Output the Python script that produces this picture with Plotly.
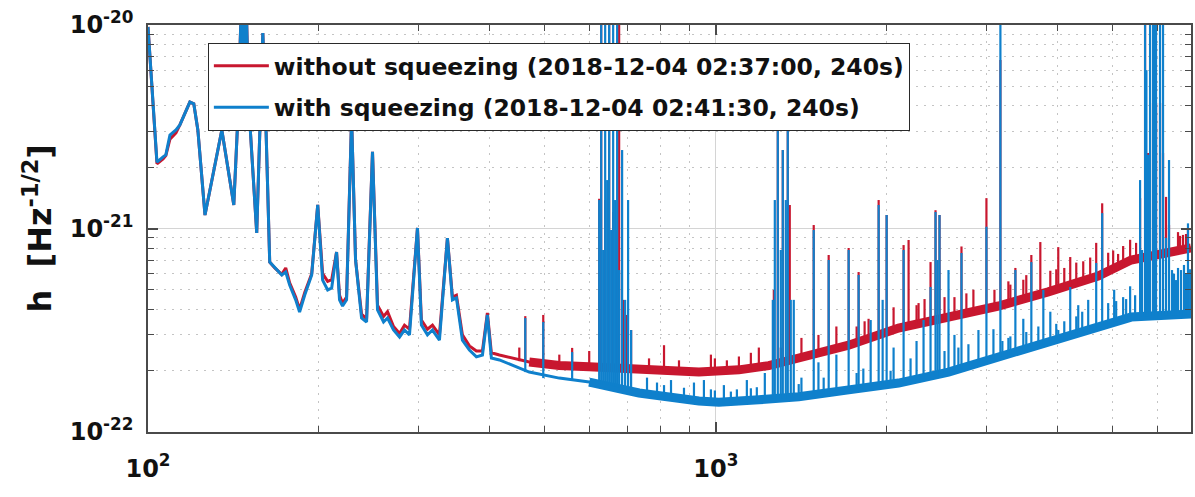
import plotly.graph_objects as go

# ---------------- data: frequency in Hz, ASD in units of 1e-22 Hz^-1/2 ----------------
# low-frequency part of each spectrum (100 Hz - 400 Hz)
blue_low_freq = [100, 103.7, 106.3, 107.5, 109.3, 112.0, 113.8, 118.5, 120.4, 122.4, 126.0, 127.5, 131.1,
                 134.9, 137.1, 141.6, 143.9, 146.3, 147.5, 148.7, 150.5, 155.4, 159.3, 161.2, 163.8, 167.2,
                 172.0, 174.8, 177.6, 182.0, 184.9, 188.8, 194.2, 199.0, 203.0, 207.2, 210.6, 214.8, 217.4,
                 220.1, 223.7, 228.3, 232.0, 237.7, 242.6, 248.5, 253.6, 259.9, 264.1, 270.6, 277.3, 282.9,
                 288.7, 298.2, 303.0, 310.5, 316.9, 326.0, 336.7, 343.6, 349.2, 357.8, 368.1, 378.7, 388.1,
                 395.9, 402.4]
blue_low_asd = [97.8, 21.2, 22.5, 23.0, 28.8, 30.5, 32.3, 41.8, 41.0, 30.5, 11.65, 13.8, 20.5,
                30.5, 23.0, 13.05, 34.1, 150, 60, 150, 40, 9.5, 91.3, 34.1, 6.84, 6.40,
                5.91, 6.11, 5.28, 4.46, 3.89, 4.71, 5.91, 13.05, 5.58, 4.99, 5.10, 7.66, 4.46,
                4.16, 4.46, 35.0, 7.0, 3.63, 3.47, 23.8, 3.98, 3.47, 3.63, 3.17, 2.93, 3.17,
                3.00, 10.06, 3.35, 3.00, 3.17, 2.83, 8.98, 4.46, 4.56, 2.83, 2.53, 2.34, 2.39,
                3.76, 2.31]
red_low_freq = blue_low_freq
red_low_asd = [97.8, 20.8, 22.0, 22.8, 27.5, 29.5, 32.3, 41.8, 41.0, 30.5, 11.65, 13.8, 20.5,
               30.5, 23.0, 13.05, 34.1, 150, 60, 150, 40, 9.5, 91.3, 34.1, 6.84, 6.40,
               5.95, 6.4, 5.4, 4.6, 4.0, 4.85, 6.0, 13.05, 6.0, 5.5, 5.6, 7.66, 4.7,
               4.3, 4.6, 35.0, 7.0, 3.8, 3.6, 23.8, 4.2, 3.7, 3.9, 3.3, 3.05, 3.35,
               3.2, 10.06, 3.55, 3.2, 3.35, 3.0, 8.98, 4.6, 4.7, 3.0, 2.65, 2.5, 2.5,
               3.85, 2.45]

# broadband noise floor above 400 Hz
red_floor_freq = [415.7, 469.2, 529.9, 598.4, 762.4, 933.5, 1097.6, 1239, 1399, 1713, 2097, 2567, 3144,
                  3848, 4711, 5384, 6512, 6865]
red_floor_asd = [2.39, 2.21, 2.12, 2.09, 2.02, 1.97, 2.02, 2.12, 2.31, 2.67, 3.24, 3.67, 4.16,
                 4.88, 5.84, 7.0, 7.84, 8.02]
blue_floor_freq = [415.7, 469.2, 529.9, 598.4, 732.3, 933.5, 1012, 1190, 1399, 1713, 2097, 2567, 3144,
                   3848, 4711, 5384, 6865]
blue_floor_asd = [2.26, 1.97, 1.84, 1.76, 1.555, 1.42, 1.40, 1.44, 1.49, 1.61, 1.74, 1.97, 2.34,
                  2.74, 3.32, 3.67, 3.80]

# narrow spectral lines: frequency, floor level at the line, line top
blue_line_freq = [461.7, 496.6, 558.3, 623.0, 628.1, 633.2, 638.3, 643.5, 648.7, 654.0, 659.3, 664.6, 670.0,
                  675.5, 683.7, 692.1, 700.5, 709.1, 810.3, 952.6, 1259.6, 1269.8, 1285.3, 1301.0, 1311.6,
                  1327.6, 1338.4, 1354.7, 1371.3, 1486.8, 1579.8, 1713.0, 1783.7, 1873.0, 1934.6, 1966.2,
                  1998.3, 2140.5, 2320.9, 2387.6, 2436.4, 2456.2, 2476.1, 2568.0, 2706.7, 2899.4, 2994.8,
                  3169.4, 3367.8, 3593.0, 3772.0, 4007.6, 4206.9, 4524.7, 4673.7, 4788.5, 5583.8, 5629.2,
                  5697.9, 5729.0, 5767.5, 5814.4, 5885.4, 5933.0, 5957.3, 6054.5, 6128.5, 6203.3, 6279.0,
                  6355.7, 6407.0, 6459.4, 6512.3, 6591.5, 6672.0, 6727.0, 6780.9, 6840.0,
                  756.3, 787.6, 833.6, 878.6, 914.9, 980.0, 1032.9, 1088.8, 1133.7, 1180.5, 1219.4, 1414.6,
                  1515.6, 1629.9, 1818.1, 2055.4, 2201.8, 2255.9, 2526.8, 2630.6, 2784.0, 3081.2, 3273.6,
                  3477.7, 3696.4, 3880.3, 4106.4, 4345.7, 4906.4, 5026.9, 5213.3, 5363.1, 5472.8,
                  995.9, 1062.6, 1152.3, 1399.0, 1548.0, 1769.3, 2030.6, 2673.0, 3195.0, 3300.0, 3520.0,
                  3975.0, 4311.0, 4416.0, 5068.0, 5277.0]
blue_line_base = [1.97, 1.84, 1.80, 1.74, 1.73, 1.72, 1.71, 1.70, 1.70, 1.69, 1.68, 1.67, 1.66,
                  1.66, 1.64, 1.63, 1.61, 1.60, 1.49, 1.42, 1.46, 1.46, 1.46, 1.46, 1.46,
                  1.46, 1.46, 1.47, 1.47, 1.50, 1.54, 1.61, 1.63, 1.66, 1.68, 1.70,
                  1.70, 1.76, 1.84, 1.89, 1.89, 1.89, 1.90, 1.97, 2.06, 2.19, 2.23,
                  2.34, 2.45, 2.60, 2.70, 2.83, 2.93, 3.13, 3.25, 3.32, 3.70, 3.70,
                  3.70, 3.70, 3.70, 3.72, 3.72, 3.72, 3.72, 3.72, 3.72, 3.72, 3.72,
                  3.72, 3.72, 3.72, 3.73, 3.74, 3.75, 3.76, 3.76, 3.78,
                  1.55, 1.52, 1.46, 1.44, 1.42, 1.40, 1.40, 1.42, 1.44, 1.44, 1.46, 1.50,
                  1.54, 1.59, 1.64, 1.72, 1.80, 1.82, 1.95, 2.02, 2.12, 2.29, 2.39,
                  2.50, 2.62, 2.72, 2.87, 3.03, 3.40, 3.47, 3.58, 3.67, 3.70,
                  1.40, 1.40, 1.44, 1.49, 1.55, 1.63, 1.71, 2.03, 2.36, 2.40, 2.52,
                  2.80, 3.00, 3.08, 3.50, 3.62]
blue_line_top = [3.63, 3.47, 2.47, 13.8, 150, 7.84, 150, 17.3, 150, 9.83, 150, 13.8, 150,
                 6.25, 24.3, 4.46, 13.8, 3.17, 1.70, 1.80, 4.46, 13.8, 38.2, 7.84, 24.3,
                 13.8, 34.1, 4.46, 4.46, 9.83, 7.0, 7.84, 5.91, 3.55, 13.05, 4.46,
                 11.65, 7.84, 3.55, 5.16, 12.05, 7.0, 11.65, 6.25, 7.58, 3.17, 10.2,
                 150, 6.25, 6.84, 4.99, 3.17, 5.16, 4.46, 6.77, 11.9, 17.3, 7.84,
                 150, 60, 23.0, 150, 150, 150, 150, 150, 150, 9.0, 21.7,
                 6.25, 6.0, 5.58, 6.4, 6.25, 6.62, 6.0, 10.6, 6.3,
                 1.85, 1.75, 1.80, 1.65, 1.75, 1.62, 1.70, 1.62, 1.80, 1.66, 1.95, 1.85,
                 2.2, 2.4, 2.05, 2.6, 2.3, 2.8, 2.5, 3.0, 2.7, 3.2, 2.9,
                 3.6, 3.3, 3.9, 3.5, 4.2, 4.3, 5.0, 4.6, 5.2, 4.7,
                 1.60, 1.58, 1.64, 1.72, 1.85, 1.95, 2.0, 2.6, 2.8, 2.95, 3.1,
                 3.4, 3.7, 3.9, 4.4, 4.5]

red_line_freq = [450.6, 461.7, 496.6, 530.0, 558.3, 598.3, 623.0, 628.1, 638.3, 648.7, 659.3, 670.0, 675.5,
                 686.4, 697.6, 709.1, 762.5, 810.3, 861.0, 980.0, 1097.8, 1190.2, 1264.7, 1285.3, 1311.6,
                 1338.4, 1349.2, 1414.6, 1486.8, 1579.8, 1629.9, 1713.0, 1783.7, 1857.2, 1934.6, 1998.3,
                 2055.4, 2140.5, 2184.3, 2274.4, 2387.6, 2436.4, 2476.1, 2526.8, 2706.7, 2840.8, 2994.8,
                 3169.4, 3273.6, 3367.8, 3477.7, 3593.0, 3726.2, 3880.3, 4007.6, 4206.9, 4434.4, 4673.7,
                 4788.5, 5006.4, 5213.3, 5363.1, 5583.8, 5697.9, 5767.5, 5885.4, 5957.3, 6054.5, 6128.5,
                 6203.3, 6279.0, 6512.3, 6645.0, 6780.9,
                 995.9, 1045.5, 1152.3, 1301.0, 1515.6, 1769.3, 1827.5, 2255.9, 2330.3, 2630.6, 2761.0,
                 3093.8, 3300.0, 3520.0, 3975.0, 4106.4, 4311.0, 4561.0, 4906.4, 5108.0, 5494.0, 6565.0,
                 6727.0]
red_line_base = [2.23, 2.21, 2.15, 2.12, 2.12, 2.09, 2.09, 2.09, 2.09, 2.08, 2.08, 2.07, 2.07,
                 2.06, 2.05, 2.04, 2.02, 2.01, 1.99, 1.97, 2.02, 2.06, 2.12, 2.13, 2.15,
                 2.18, 2.20, 2.33, 2.42, 2.52, 2.60, 2.67, 2.79, 2.88, 3.00, 3.10,
                 3.20, 3.26, 3.32, 3.40, 3.47, 3.55, 3.58, 3.62, 3.76, 3.90, 4.0,
                 4.16, 4.2, 4.3, 4.4, 4.5, 4.65, 4.9, 4.93, 5.1, 5.4, 5.78,
                 5.91, 6.2, 6.5, 6.9, 7.16, 7.2, 7.2, 7.3, 7.3, 7.4, 7.4,
                 7.5, 7.6, 7.8, 7.9, 8.0,
                 1.97, 1.99, 2.04, 2.15, 2.45, 2.75, 2.85, 3.38, 3.45, 3.72, 3.85,
                 4.1, 4.22, 4.45, 4.9, 5.05, 5.25, 5.55, 6.0, 6.3, 7.0, 7.85,
                 7.95]
red_line_top = [2.6, 3.71, 3.76, 2.4, 2.59, 2.5, 14, 150, 13.8, 150, 12.05, 9.83, 150,
                4.46, 3.76, 3.17, 2.3, 2.67, 2.25, 2.4, 2.35, 2.6, 4.99, 38.2, 24.3,
                34.1, 13.05, 2.9, 10.4, 7.41, 3.3, 8.02, 6.11, 3.6, 13.8, 11.65,
                4.1, 8.29, 8.78, 4.3, 6.84, 12.3, 11.65, 4.6, 8.16, 5.0, 14.1,
                67.3, 5.5, 6.4, 5.6, 7.41, 8.58, 6.2, 8.1, 7.24, 6.9, 8.5,
                13.3, 7.8, 8.2, 8.8, 14.1, 150, 23.5, 41.4, 41.4, 41.4, 23.5,
                14.3, 10.4, 9.6, 9.3, 10.0,
                2.3, 2.25, 2.45, 2.6, 3.0, 3.3, 3.5, 4.2, 4.5, 4.6, 4.8,
                5.0, 5.3, 5.9, 6.3, 6.4, 6.8, 7.2, 7.6, 7.5, 8.5, 9.2,
                9.4]

red_label = "without squeezing (2018-12-04 02:37:00, 240s)"
blue_label = "with squeezing (2018-12-04 02:41:30, 240s)"

x_major = [100, 1000]
x_major_text = ["10<sup>2</sup>", "10<sup>3</sup>"]
x_minor = [200, 300, 400, 500, 600, 700, 800, 900, 2000, 3000, 4000, 5000, 6000]
y_major = [1e-22, 1e-21, 1e-20]
y_major_text = ["10<sup>-22</sup>", "10<sup>-21</sup>", "10<sup>-20</sup>"]
y_minor = [2e-22, 3e-22, 4e-22, 5e-22, 6e-22, 7e-22, 8e-22, 9e-22,
           2e-21, 3e-21, 4e-21, 5e-21, 6e-21, 7e-21, 8e-21, 9e-21]

SCALE = 1e-22
RED = "#c8172f"
BLUE = "#0f80cc"


def sc(v):
    return [a * SCALE for a in v]


def segments(freq, base, top):
    xs, ys = [], []
    for f, b, t in zip(freq, base, top):
        xs += [f, f, None]
        ys += [b * SCALE, t * SCALE, None]
    return xs, ys


fig = go.Figure()
series = [
    ("r", RED, red_label, red_low_freq, red_low_asd, red_floor_freq, red_floor_asd,
     red_line_freq, red_line_base, red_line_top, 1),
    ("b", BLUE, blue_label, blue_low_freq, blue_low_asd, blue_floor_freq, blue_floor_asd,
     blue_line_freq, blue_line_base, blue_line_top, 3),
]
for grp, col, label, lf, la, ff, fa, sf, sb, st, band_start in series:
    fig.add_trace(go.Scatter(x=lf + ff, y=sc(la + fa), mode="lines", name="<b>" + label + "</b>",
                             line=dict(color=col, width=3), legendgroup=grp))
    fig.add_trace(go.Scatter(x=ff[band_start:], y=sc(fa[band_start:]), mode="lines",
                             line=dict(color=col, width=9), legendgroup=grp,
                             showlegend=False, hoverinfo="skip"))
    sx, sy = segments(sf, sb, st)
    fig.add_trace(go.Scatter(x=sx, y=sy, mode="lines", line=dict(color=col, width=2.2),
                             legendgroup=grp, showlegend=False, hoverinfo="skip"))

axis_common = dict(
    type="log", showline=True, linecolor="#4a4a4a", linewidth=1.5, mirror="ticks",
    ticks="inside", ticklen=10, tickwidth=1.5, tickcolor="#4a4a4a",
    showgrid=True, gridcolor="#d4d4d4", gridwidth=1, zeroline=False,
    tickfont=dict(family="DejaVu Sans", size=24, color="#111111"),
)

fig.update_xaxes(**axis_common, range=[2, 3.8366], tickmode="array", tickvals=x_major,
                 ticktext=["<b>" + t + "</b>" for t in x_major_text], ticklabelstandoff=14,
                 minor=dict(tickmode="array", tickvals=x_minor, ticks="inside", ticklen=6,
                            tickcolor="#4a4a4a", tickwidth=1.2, showgrid=True,
                            gridcolor="#c4c4c4", griddash="2px,6px", gridwidth=1))
fig.update_yaxes(**axis_common, range=[-22, -20], tickmode="array", tickvals=y_major,
                 ticktext=["<b>" + t + "</b>" for t in y_major_text], ticklabelstandoff=8,
                 minor=dict(tickmode="array", tickvals=y_minor, ticks="inside", ticklen=6,
                            tickcolor="#4a4a4a", tickwidth=1.2, showgrid=True,
                            gridcolor="#c4c4c4", griddash="2px,6px", gridwidth=1))

fig.update_layout(
    width=1195, height=497,
    margin=dict(l=148, r=2, t=25, b=65),
    paper_bgcolor="white", plot_bgcolor="white",
    font=dict(family="DejaVu Sans", color="#111111"),
    showlegend=True,
    legend=dict(x=0.0574, y=0.956, xanchor="left", yanchor="top",
                bgcolor="white", bordercolor="#2a2a2a", borderwidth=1,
                font=dict(family="DejaVu Sans", size=23.5, color="#111111"),
                itemwidth=55, traceorder="grouped", tracegroupgap=8),
    annotations=[dict(text="<b>h&nbsp;&nbsp;[Hz<sup>-1/2</sup>]</b>", textangle=-90,
                      xref="paper", yref="paper", x=0, y=0.5, xanchor="center", yanchor="middle",
                      xshift=-111, showarrow=False,
                      font=dict(family="DejaVu Sans", size=32, color="#111111"))],
)

fig.write_html("out.html")
